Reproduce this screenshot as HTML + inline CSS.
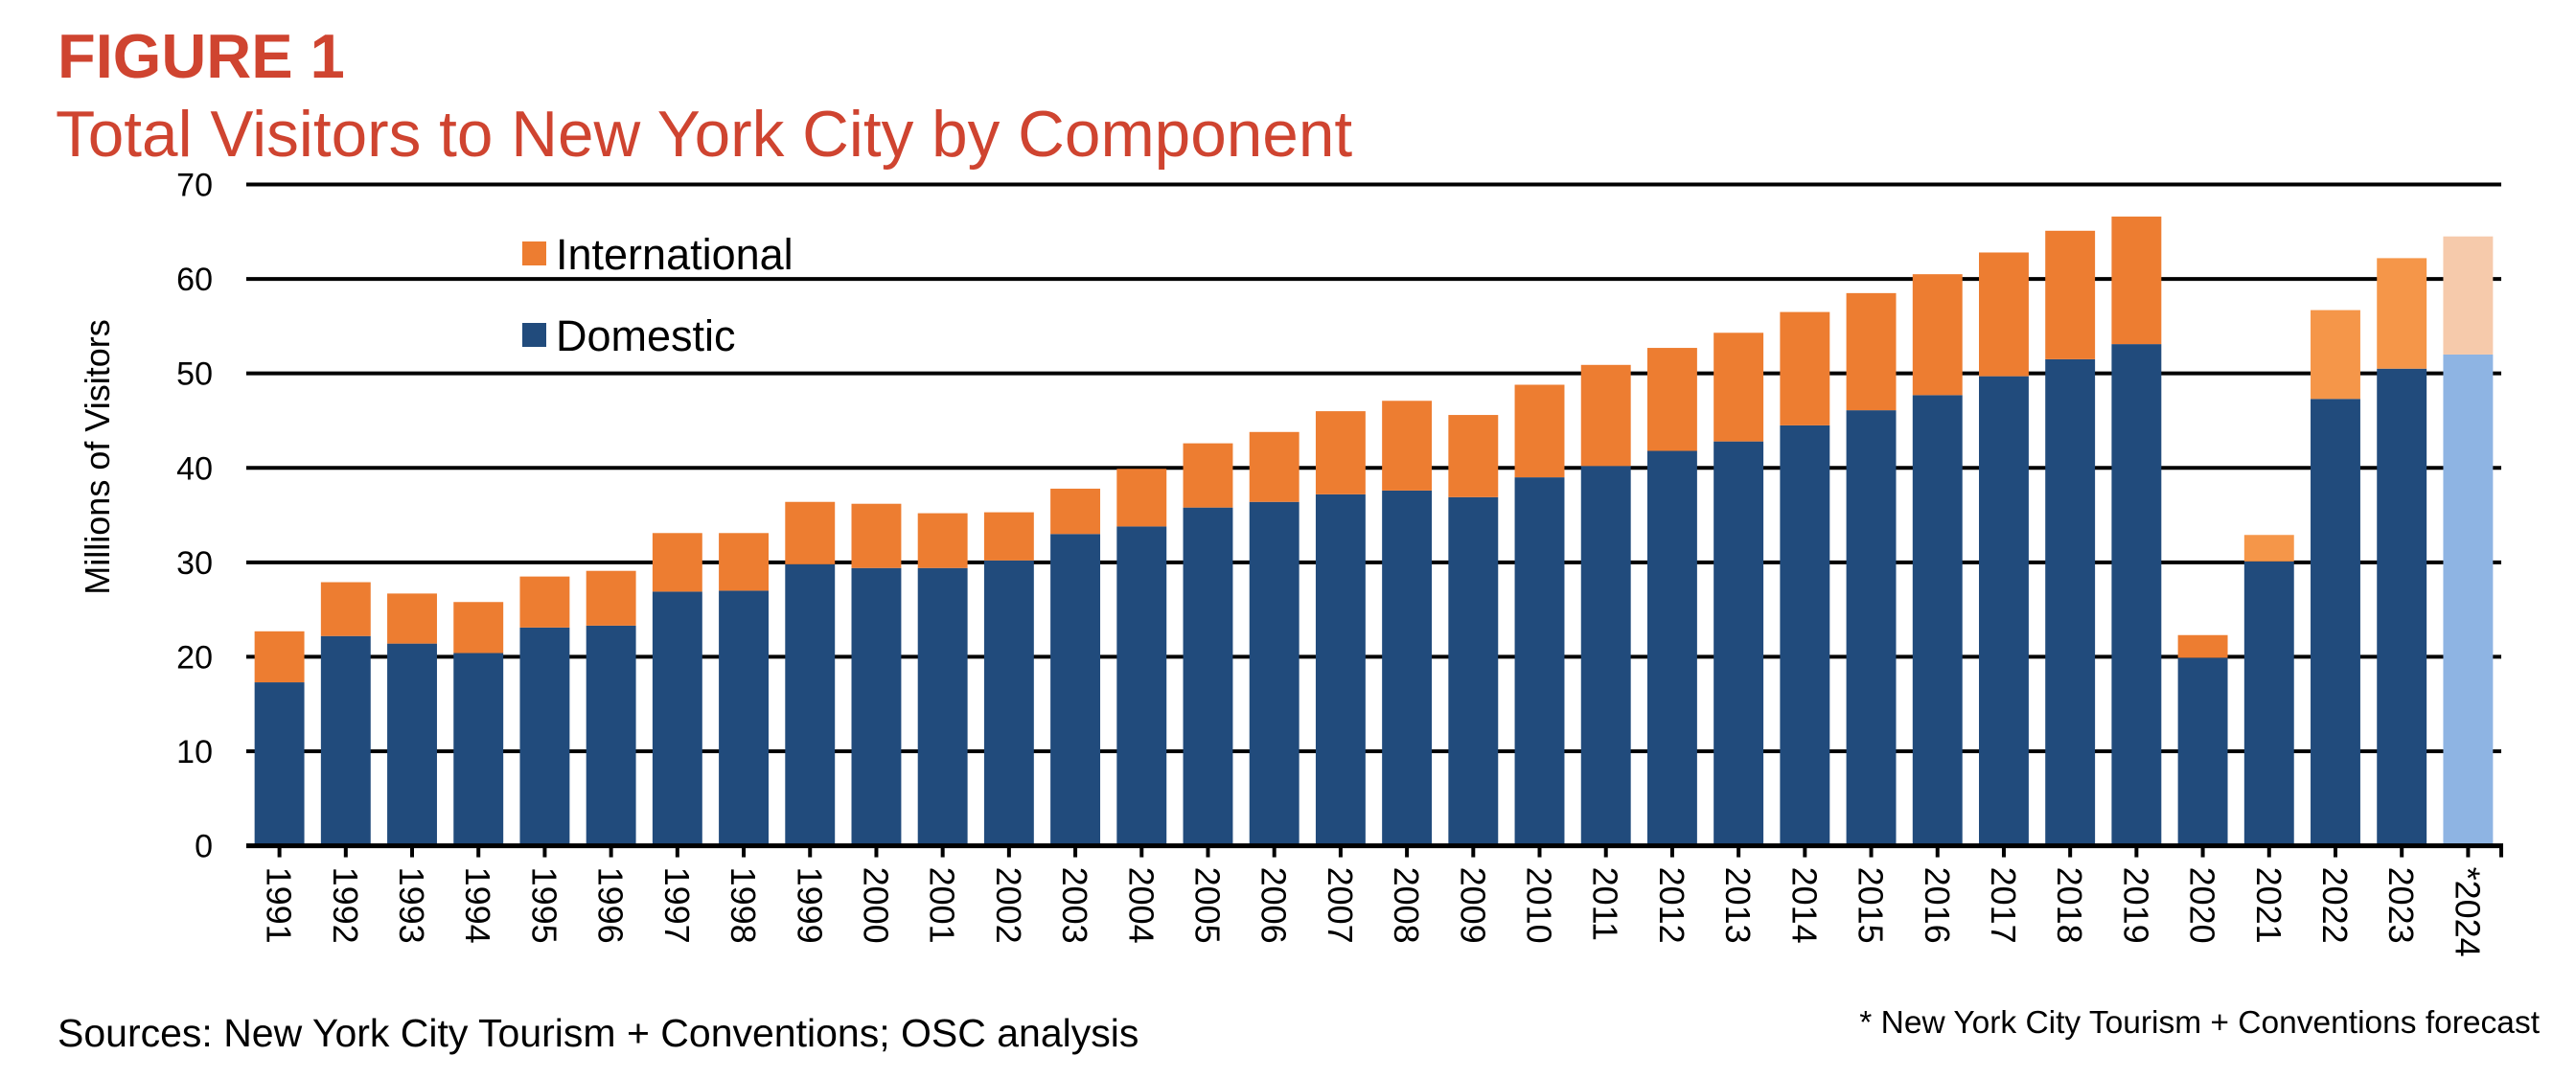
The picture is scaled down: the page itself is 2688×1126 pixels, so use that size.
<!DOCTYPE html>
<html><head><meta charset="utf-8"><style>
html,body{margin:0;padding:0;background:#fff;}
svg{display:block;font-family:"Liberation Sans",Arial,sans-serif;}
</style></head><body>
<svg id="chart" width="2688" height="1126" viewBox="0 0 2688 1126" xmlns="http://www.w3.org/2000/svg">
<text x="60" y="81" font-size="65" font-weight="bold" fill="#cf4430">FIGURE 1</text>
<text x="58" y="163" font-size="67.5" fill="#cf4430">Total Visitors to New York City by Component</text>
<text transform="translate(114,477) rotate(-90)" text-anchor="middle" font-size="36" fill="#000">Millions of Visitors</text>
<g id="grid"></g>
<g id="bars"></g>
<g id="xaxis"></g>
<rect x="545" y="252" width="25" height="25" fill="#ed7d31"/>
<text x="580" y="281" font-size="45" fill="#000">International</text>
<rect x="545" y="337" width="25" height="25" fill="#214b7c"/>
<text x="580" y="366" font-size="45" fill="#000">Domestic</text>
<text x="60" y="1092" font-size="41" fill="#000">Sources: New York City Tourism + Conventions; OSC analysis</text>
<text x="2650" y="1078" font-size="33.5" text-anchor="end" fill="#000">* New York City Tourism + Conventions forecast</text>
</svg>
<script>
const categories = ["1991","1992","1993","1994","1995","1996","1997","1998","1999","2000","2001","2002","2003","2004","2005","2006","2007","2008","2009","2010","2011","2012","2013","2014","2015","2016","2017","2018","2019","2020","2021","2022","2023","*2024"];
const domestic = [17.3,22.2,21.4,20.4,23.1,23.3,26.9,27.0,29.8,29.4,29.4,30.2,33.0,33.8,35.8,36.4,37.2,37.6,36.9,39.0,40.2,41.8,42.8,44.5,46.1,47.7,49.7,51.5,53.1,19.9,30.1,47.3,50.5,52.0];
const international = [5.4,5.7,5.3,5.4,5.4,5.8,6.2,6.1,6.6,6.8,5.8,5.1,4.8,6.1,6.8,7.4,8.8,9.5,8.7,9.8,10.7,10.9,11.5,12.0,12.4,12.8,13.1,13.6,13.5,2.4,2.8,9.4,11.7,12.5];
const yTicks = [0,10,20,30,40,50,60,70];

const NS="http://www.w3.org/2000/svg";
const L=257,R=2610,Y0=882.6,Y70=192.5,YMAX=70;
const band=(R-L)/categories.length, bw=band*0.75;
function yS(v){return Y0-(v/YMAX)*(Y0-Y70);}
function xS(i){return L+band*i+band/2;}
function mk(tag,attrs,parent){const e=document.createElementNS(NS,tag);for(const k in attrs)e.setAttribute(k,attrs[k]);parent.appendChild(e);return e;}
const grid=document.getElementById('grid'),bars=document.getElementById('bars'),xa=document.getElementById('xaxis');
yTicks.forEach(t=>{
  if(t>0){const ln=mk('line',{x1:L,x2:R,y1:yS(t),y2:yS(t),stroke:'#000','stroke-width':4},grid);
  
  }
  const tx=mk('text',{x:222,y:yS(t)+12,'text-anchor':'end','font-size':34,fill:'#000'},grid);
  tx.textContent=t;
  
  
});
categories.forEach((c,i)=>{
  const cx=xS(i);
  let dc='#214b7c', ic='#ed7d31';
  if(i>=30&&i<=32) ic='#f59649';
  if(i===33){dc='#8eb4e3';ic='#f6caab';}
  const d=mk('rect',{x:cx-bw/2,y:yS(domestic[i]),width:bw,height:Y0-yS(domestic[i]),fill:dc},bars);
  
  
  const top=domestic[i]+international[i];
  const n=mk('rect',{x:cx-bw/2,y:yS(top),width:bw,height:yS(domestic[i])-yS(top),fill:ic},bars);
  
  
  const tk=mk('line',{x1:cx,x2:cx,y1:Y0,y2:Y0+12,stroke:'#000','stroke-width':4},xa);
  
  
  const lb=mk('text',{x:0,y:0,'font-size':36,fill:'#000',transform:'translate('+(cx-13)+','+(Y0+22)+') rotate(90)'},xa);
  lb.textContent=c;
  
  
});
const ax=mk('line',{x1:L,x2:R+2,y1:Y0,y2:Y0,stroke:'#000','stroke-width':5},xa);


const et=mk('line',{x1:R,x2:R,y1:Y0,y2:Y0+12,stroke:'#000','stroke-width':4},xa);


</script>
</body></html>
